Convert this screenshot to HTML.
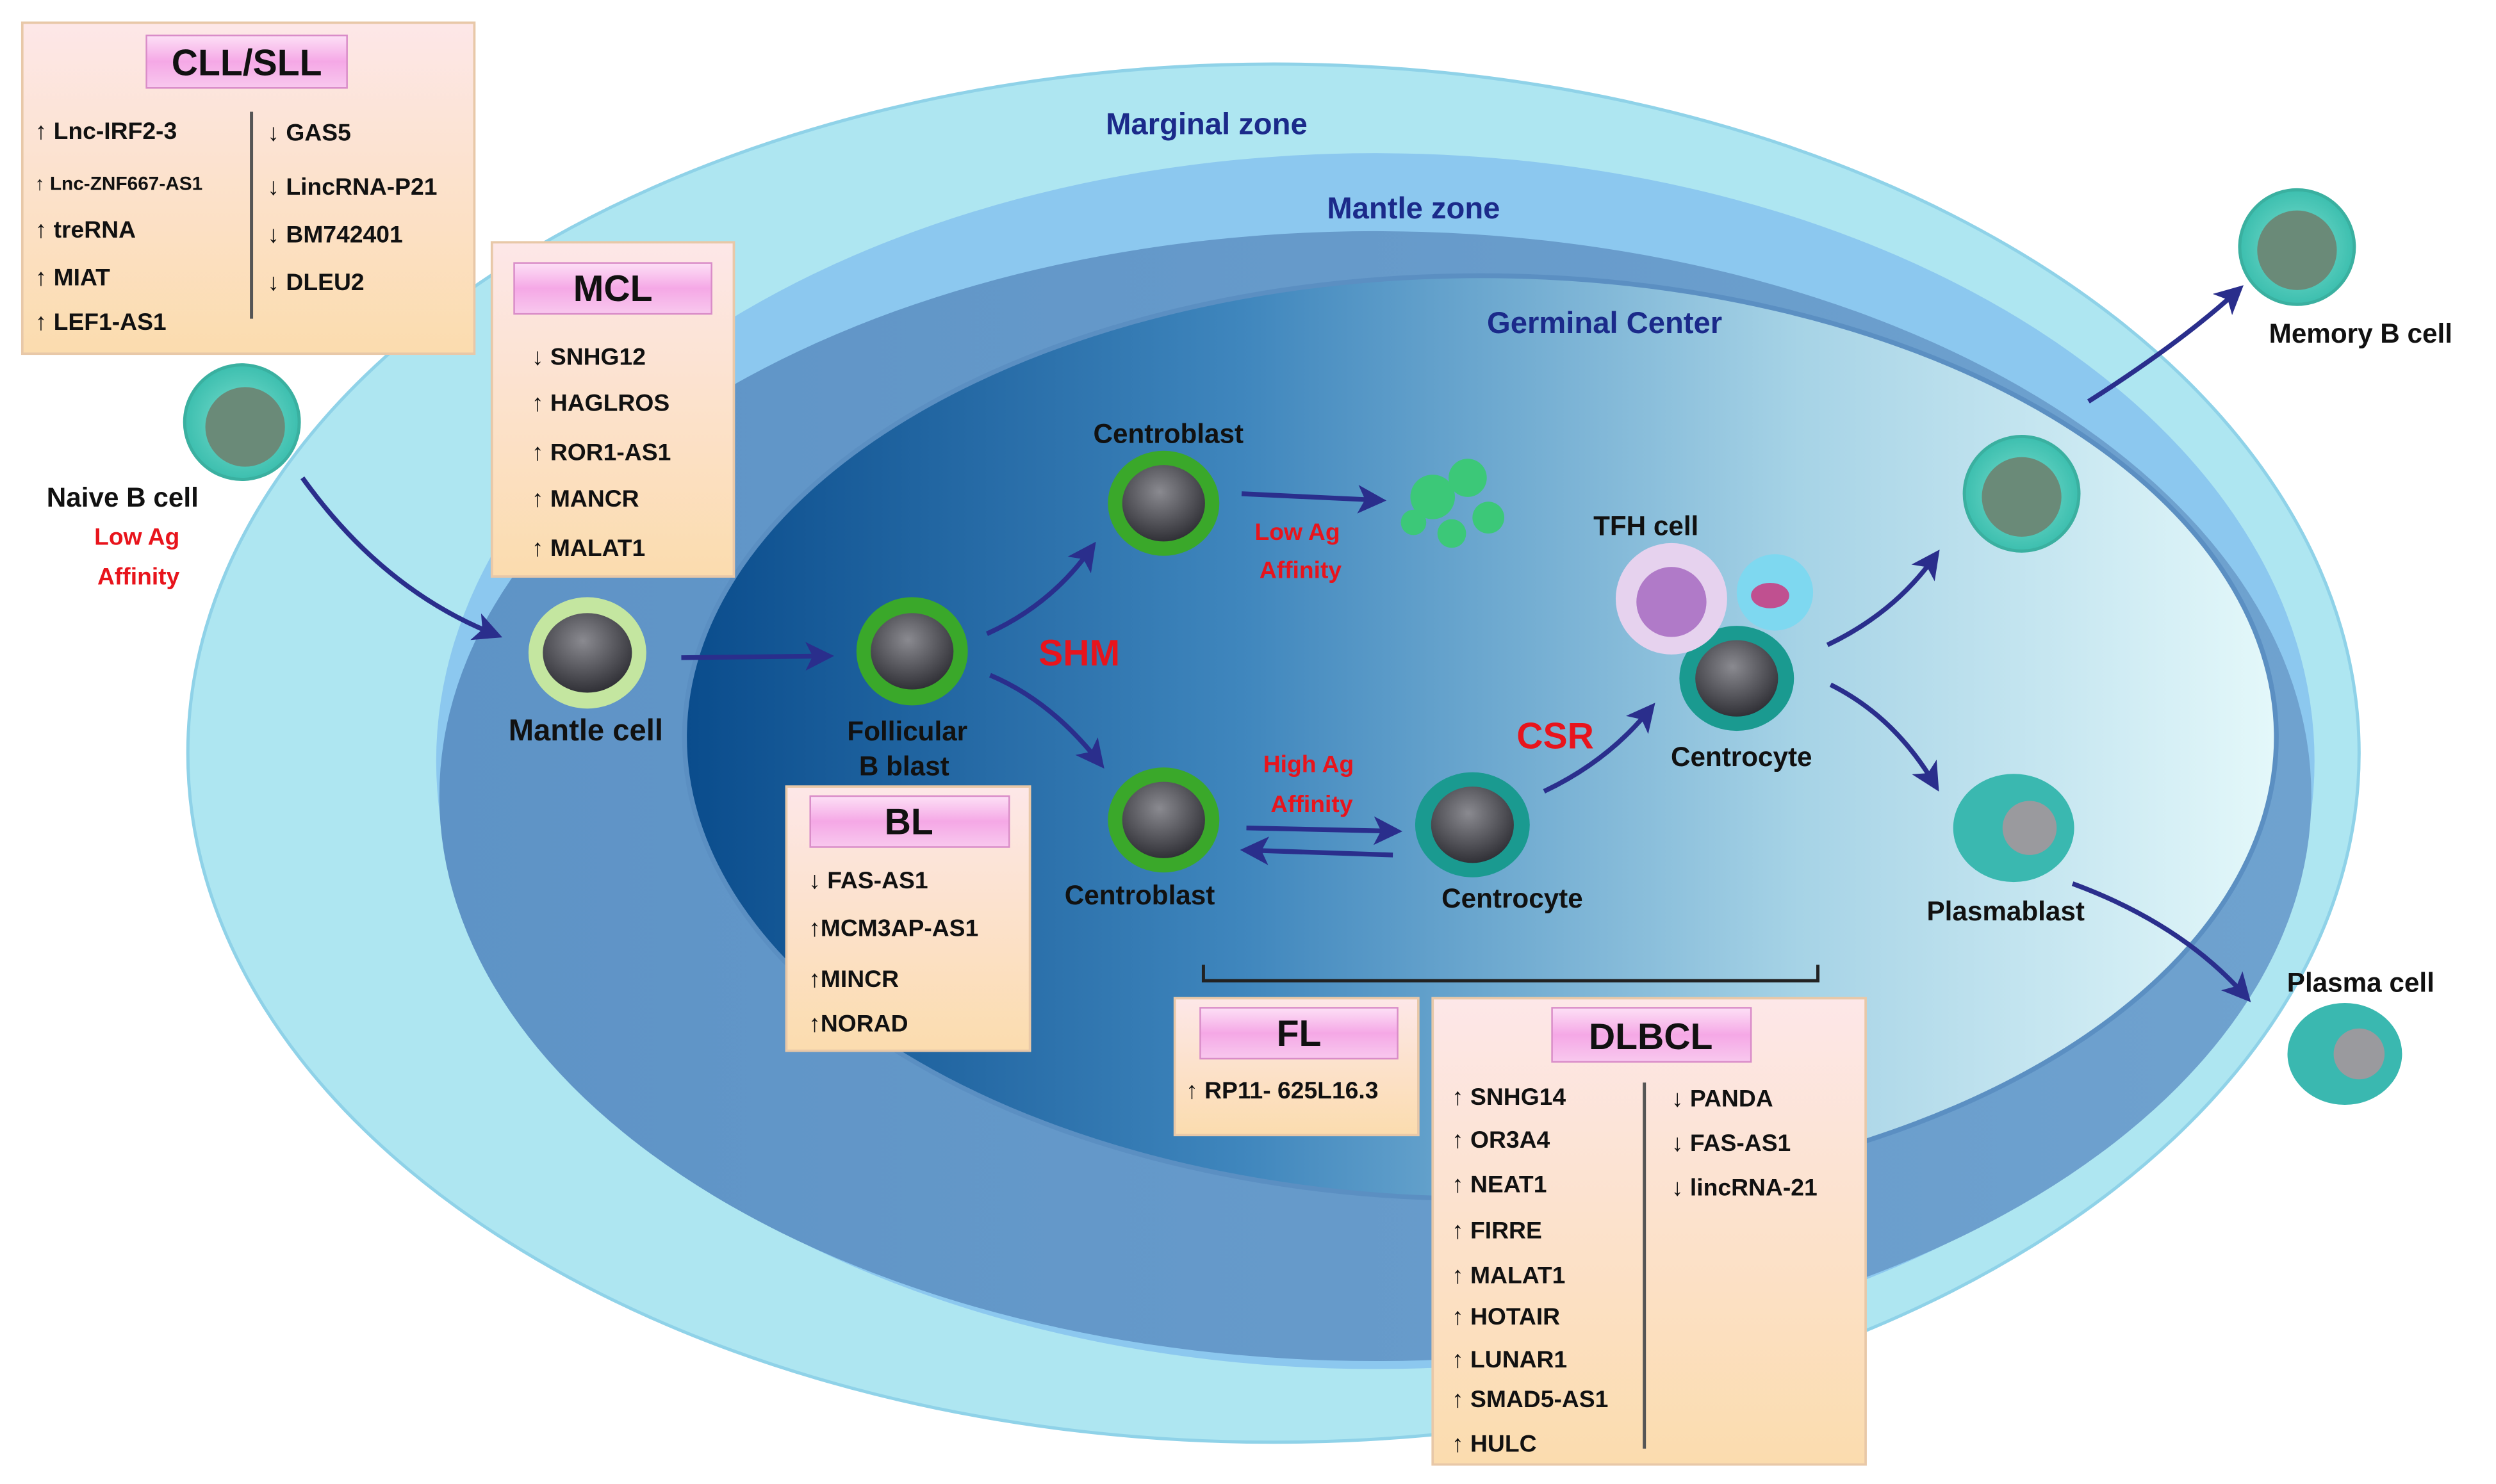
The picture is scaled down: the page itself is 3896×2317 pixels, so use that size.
<!DOCTYPE html>
<html><head><meta charset="utf-8"><style>
html,body{margin:0;padding:0;background:#fff}
svg{display:block}
text{font-family:"Liberation Sans",sans-serif;font-weight:bold}
</style></head><body>
<svg width="3896" height="2317" viewBox="0 0 1568 932" xmlns="http://www.w3.org/2000/svg">
<defs>
<linearGradient id="gc" x1="0" y1="0" x2="1" y2="0">
<stop offset="0" stop-color="#0a4c8c"/><stop offset="0.35" stop-color="#3f86bd"/><stop offset="0.7" stop-color="#a6d3e6"/><stop offset="1" stop-color="#e4f8fa"/></linearGradient>
<linearGradient id="mz" x1="0" y1="0" x2="1" y2="0">
<stop offset="0" stop-color="#5e93c6"/><stop offset="1" stop-color="#6fa2cf"/></linearGradient>
<linearGradient id="box" x1="0" y1="0" x2="0" y2="1">
<stop offset="0" stop-color="#fde7e8"/><stop offset="1" stop-color="#fbdcae"/></linearGradient>
<linearGradient id="pill" x1="0" y1="0" x2="0" y2="1">
<stop offset="0" stop-color="#fde0f6"/><stop offset="0.5" stop-color="#f5a8e6"/><stop offset="1" stop-color="#f8c8ee"/></linearGradient>
<radialGradient id="nuc" cx="0.45" cy="0.35" r="0.7">
<stop offset="0" stop-color="#8a8a90"/><stop offset="1" stop-color="#2a2a30"/></radialGradient>
<radialGradient id="tq" cx="0.5" cy="0.5" r="0.6">
<stop offset="0" stop-color="#7fe0d0"/><stop offset="1" stop-color="#2fb8a8"/></radialGradient>
<marker id="ar" markerWidth="6" markerHeight="6" refX="4" refY="3" orient="auto" markerUnits="strokeWidth">
<path d="M0,0 L6,3 L0,6 L1.5,3 z" fill="#2a2e8c"/></marker>
</defs>
<rect width="1568" height="932" fill="#fff"/>
<ellipse cx="800" cy="473" rx="682" ry="433" fill="#aee6f1" stroke="#8fd2e8" stroke-width="2"/>
<ellipse cx="864" cy="478" rx="590" ry="382" fill="#8cc8ef"/>
<ellipse cx="864" cy="500" rx="588" ry="355" fill="url(#mz)"/>
<ellipse cx="930" cy="463" rx="500" ry="290" fill="url(#gc)" stroke="#5b8fc2" stroke-width="3"/>
<text x="758" y="84" font-size="19" fill="#1b2a8a" text-anchor="middle">Marginal zone</text>
<text x="888" y="137" font-size="19" fill="#1b2a8a" text-anchor="middle">Mantle zone</text>
<text x="1008" y="209" font-size="19" fill="#1b2a8a" text-anchor="middle">Germinal Center</text>

<g fill="none" stroke="#2a2e8c" stroke-width="3" marker-end="url(#ar)">
<path d="M190,300 Q240,370 310,398"/>
<path d="M428,413 L518,412"/>
<path d="M620,398 Q660,380 685,345"/>
<path d="M622,424 Q660,440 690,478"/>
<path d="M780,310 L865,314"/>
<path d="M783,520 L875,522"/>
<path d="M875,537 L785,534"/>
<path d="M970,497 Q1010,478 1036,446"/>
<path d="M1148,405 Q1190,385 1215,350"/>
<path d="M1150,430 Q1190,450 1215,492"/>
<path d="M1312,252 Q1370,215 1405,183"/>
<path d="M1302,555 Q1370,580 1410,625"/>
</g>

<!-- cells -->
<g>
<ellipse cx="369" cy="410" rx="37" ry="35" fill="#c4e6a0"/><ellipse cx="369" cy="410" rx="28" ry="25" fill="url(#nuc)"/>
<ellipse cx="573" cy="409" rx="35" ry="34" fill="#3aa82a"/><ellipse cx="573" cy="409" rx="26" ry="24" fill="url(#nuc)"/>
<ellipse cx="731" cy="316" rx="35" ry="33" fill="#3aa82a"/><ellipse cx="731" cy="316" rx="26" ry="24" fill="url(#nuc)"/>
<ellipse cx="731" cy="515" rx="35" ry="33" fill="#3aa82a"/><ellipse cx="731" cy="515" rx="26" ry="24" fill="url(#nuc)"/>
<ellipse cx="925" cy="518" rx="36" ry="33" fill="#1a9a90"/><ellipse cx="925" cy="518" rx="26" ry="24" fill="url(#nuc)"/>
<ellipse cx="1091" cy="426" rx="36" ry="33" fill="#1a9a90"/><ellipse cx="1091" cy="426" rx="26" ry="24" fill="url(#nuc)"/>
<circle cx="1050" cy="376" r="35" fill="#e6d2ee"/><circle cx="1050" cy="378" r="22" fill="#b07ac8"/>
<circle cx="1115" cy="372" r="24" fill="#7ed8f0"/><ellipse cx="1112" cy="374" rx="12" ry="8" fill="#c05090"/>
<circle cx="152" cy="265" r="36" fill="url(#tq)" stroke="#3ab0a0" stroke-width="2"/><circle cx="154" cy="268" r="25" fill="#6a8a78"/>
<circle cx="1270" cy="310" r="36" fill="url(#tq)" stroke="#3ab0a0" stroke-width="2"/><circle cx="1270" cy="312" r="25" fill="#6a8a78"/>
<circle cx="1443" cy="155" r="36" fill="url(#tq)" stroke="#3ab0a0" stroke-width="2"/><circle cx="1443" cy="157" r="25" fill="#6a8a78"/>
<ellipse cx="1265" cy="520" rx="38" ry="34" fill="#3ab8b0"/><circle cx="1275" cy="520" r="17" fill="#9a9a9e"/>
<ellipse cx="1473" cy="662" rx="36" ry="32" fill="#3ab8b0"/><circle cx="1482" cy="662" r="16" fill="#9a9a9e"/>
<g fill="#3cc878"><circle cx="900" cy="312" r="14"/><circle cx="922" cy="300" r="12"/><circle cx="935" cy="325" r="10"/><circle cx="888" cy="328" r="8"/><circle cx="912" cy="335" r="9"/></g>
</g>

<!-- cell labels -->
<g font-size="17" fill="#111" text-anchor="middle">
<text x="77" y="318">Naive B cell</text>
<text x="368" y="465" font-size="19">Mantle cell</text>
<text x="570" y="465">Follicular</text><text x="568" y="487">B blast</text>
<text x="734" y="278">Centroblast</text>
<text x="716" y="568">Centroblast</text>
<text x="950" y="570">Centrocyte</text>
<text x="1094" y="481">Centrocyte</text>
<text x="1034" y="336">TFH cell</text>
<text x="1260" y="578">Plasmablast</text>
<text x="1483" y="215">Memory B cell</text>
<text x="1483" y="623">Plasma cell</text>
</g>
<g font-size="15" fill="#e8141c" text-anchor="middle">
<text x="86" y="342">Low Ag</text><text x="87" y="367">Affinity</text>
<text x="815" y="339">Low Ag</text><text x="817" y="363">Affinity</text>
<text x="822" y="485">High Ag</text><text x="824" y="510">Affinity</text>
</g>
<text x="678" y="418" font-size="23" fill="#e8141c" text-anchor="middle">SHM</text>
<text x="977" y="470" font-size="23" fill="#e8141c" text-anchor="middle">CSR</text>
<path d="M756,606 V616 H1142 V606" fill="none" stroke="#222" stroke-width="2"/>

<!-- boxes -->
<g stroke="#e8c8a8" stroke-width="1.5" fill="url(#box)">
<rect x="14" y="14" width="284" height="208"/>
<rect x="309" y="152" width="152" height="210"/>
<rect x="494" y="494" width="153" height="166"/>
<rect x="738" y="627" width="153" height="86"/>
<rect x="900" y="627" width="272" height="293"/>
</g>
<g fill="url(#pill)" stroke="#d98cc8" stroke-width="1">
<rect x="92" y="22" width="126" height="33"/>
<rect x="323" y="165" width="124" height="32"/>
<rect x="509" y="500" width="125" height="32"/>
<rect x="754" y="633" width="124" height="32"/>
<rect x="975" y="633" width="125" height="34"/>
</g>
<g font-size="23" fill="#111" text-anchor="middle">
<text x="155" y="47">CLL/SLL</text><text x="385" y="189">MCL</text><text x="571" y="524">BL</text><text x="816" y="657">FL</text><text x="1037" y="659">DLBCL</text>
</g>
<g stroke="#555" stroke-width="2"><line x1="158" y1="70" x2="158" y2="200"/><line x1="1033" y1="680" x2="1033" y2="910"/></g>
<g font-size="15" fill="#111">
<text x="22" y="87">↑ Lnc-IRF2-3</text>
<text x="22" y="119" font-size="12">↑ Lnc-ZNF667-AS1</text>
<text x="22" y="149">↑ treRNA</text>
<text x="22" y="179">↑  MIAT</text>
<text x="22" y="207">↑ LEF1-AS1</text>
<text x="168" y="88">↓ GAS5</text>
<text x="168" y="122">↓ LincRNA-P21</text>
<text x="168" y="152">↓ BM742401</text>
<text x="168" y="182">↓ DLEU2</text>
<text x="334" y="229">↓ SNHG12</text>
<text x="334" y="258">↑ HAGLROS</text>
<text x="334" y="289">↑ ROR1-AS1</text>
<text x="334" y="318">↑ MANCR</text>
<text x="334" y="349">↑ MALAT1</text>
<text x="508" y="558">↓ FAS-AS1</text>
<text x="508" y="588">↑MCM3AP-AS1</text>
<text x="508" y="620">↑MINCR</text>
<text x="508" y="648">↑NORAD</text>
<text x="745" y="690">↑ RP11- 625L16.3</text>
<text x="912" y="694">↑ SNHG14</text>
<text x="912" y="721">↑ OR3A4</text>
<text x="912" y="749">↑ NEAT1</text>
<text x="912" y="778">↑ FIRRE</text>
<text x="912" y="806">↑ MALAT1</text>
<text x="912" y="832">↑ HOTAIR</text>
<text x="912" y="859">↑ LUNAR1</text>
<text x="912" y="884">↑ SMAD5-AS1</text>
<text x="912" y="912">↑ HULC</text>
<text x="1050" y="695">↓ PANDA</text>
<text x="1050" y="723">↓ FAS-AS1</text>
<text x="1050" y="751">↓ lincRNA-21</text>
</g>
</svg>
</body></html>
